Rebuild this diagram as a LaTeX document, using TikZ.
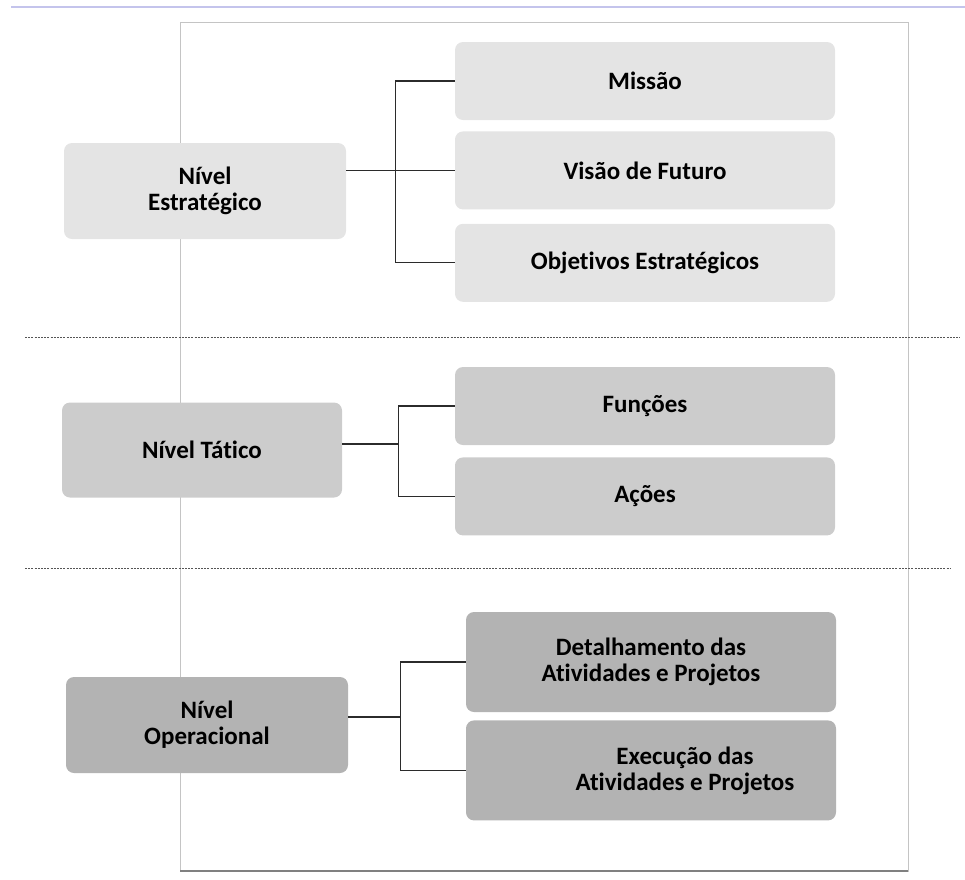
\documentclass[tikz,border=0pt]{standalone}
\usepackage{fontspec}
\setmainfont{Carlito}[Ligatures=CommonOff]
\usepackage{tikz}
\usetikzlibrary{positioning, calc}
\definecolor{topline}{HTML}{C4C4EC}
\definecolor{framegray}{HTML}{C4C4C4}
\definecolor{fillone}{HTML}{E4E4E4}
\definecolor{filltwo}{HTML}{CCCCCC}
\definecolor{fillthree}{HTML}{B3B3B3}
\definecolor{ink}{HTML}{2B2B2B}
\definecolor{dotgray}{HTML}{555555}
\tikzset{
  box/.style   ={rounded corners=8pt, minimum height=78pt, minimum width=380pt,
                 align=center, inner sep=4pt, text=black,
                 font=\bfseries\fontsize{25}{26}\selectfont},
  boxa/.style  ={box, fill=fillone},
  boxb/.style  ={box, fill=filltwo},
  boxc/.style  ={box, fill=fillthree, minimum width=370pt, minimum height=100pt},
  lvla/.style  ={boxa, minimum width=282pt, minimum height=96pt},
  lvlb/.style  ={boxb, minimum width=280pt, minimum height=95pt},
  lvlc/.style  ={boxc, minimum width=282pt, minimum height=96pt},
  link/.style  ={draw=ink, line width=1.2pt},
  sepline/.style={draw=dotgray, line width=1pt, dash pattern=on 2pt off 1.2pt},
  frame/.style ={draw=framegray, line width=1pt}
}

\begin{document}
\begin{tikzpicture}[x=1pt, y=-1pt, node distance=12pt]
  \useasboundingbox (0,0) rectangle (965,879);

  % Moldura
  \draw[draw=topline, line width=1.2pt] (11,7) -- (965,7);
  \draw[frame] (180,22) rectangle (908,871);
  \draw[draw=gray, line width=1.6pt] (180,871) -- (908,871);
  \draw[sepline] (25,337) -- (960,337);
  \draw[sepline] (25,568) -- (950,568);

  % Nivel Estrategico
  \node[lvla] (estr) at (205,191) {Nível\\Estratégico};
  \node[boxa] (missao) at (645,81) {Missão};
  \node[boxa, below=11pt of missao] (visao) {Visão de Futuro};
  \node[boxa, below=14pt of visao] (objetivos) {Objetivos Estratégicos};

  % Nivel Tatico
  \node[lvlb] (tatico) at (202,450) {Nível Tático};
  \node[boxb] (funcoes) at (645,406) {Funções};
  \node[boxb, below=of funcoes] (acoes) {Ações};

  % Nivel Operacional
  \node[lvlc] (oper) at (207,725) {Nível\\Operacional};
  \node[boxc] (detal) at (651,662) {Detalhamento das\\Atividades e Projetos};
  \node[boxc, below=8pt of detal] (exec)
       {\hspace*{68pt}Execução das\\\hspace*{68pt}Atividades e Projetos};

  % Ligacoes
  \coordinate (efork) at ([xshift=-59pt]missao.west);
  \draw[link] (visao.west -| estr.east) -- (visao.west);
  \draw[link] (missao.west) -- (efork) |- (objetivos.west);

  \coordinate (tfork) at ([xshift=-56pt]funcoes.west);
  \coordinate (tout) at ([yshift=6pt]tatico.east);
  \draw[link] (funcoes.west) -- (tfork) |- (acoes.west);
  \draw[link] (tout) -- (tout -| tfork);

  \coordinate (ofork) at ([xshift=-65pt]detal.west);
  \coordinate (oout) at ([yshift=8pt]oper.east);
  \draw[link] (detal.west) -- (ofork) |- (exec.west);
  \draw[link] (oout) -- (oout -| ofork);
\end{tikzpicture}
\end{document}
